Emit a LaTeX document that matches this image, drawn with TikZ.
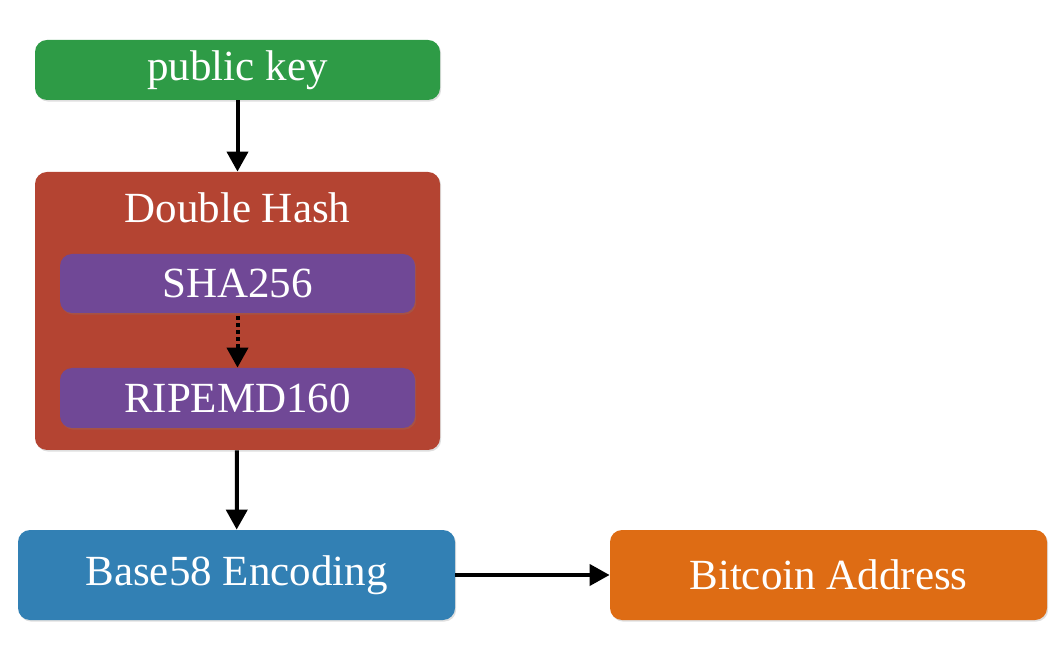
\documentclass[tikz,border=0pt]{standalone}
\usepackage{fontspec}
\setmainfont{Liberation Serif}
\usetikzlibrary{arrows.meta, shadows}

\definecolor{keygreen}{RGB}{46,155,70}
\definecolor{hashred}{RGB}{180,68,50}
\definecolor{stepviolet}{RGB}{112,72,150}
\definecolor{encblue}{RGB}{50,128,180}
\definecolor{addrorange}{RGB}{222,108,20}

\tikzset{
	box/.style={rounded corners=6pt, text=white, inner sep=0pt, font=\fontsize{21.5}{25}\selectfont,
		drop shadow={shadow xshift=0.6pt, shadow yshift=-0.8pt, opacity=0.25}},
	flow/.style={line width=2pt, -{Triangle[length=10pt, width=10.5pt]}},
}

\begin{document}
\begin{tikzpicture}[x=0.5pt, y=-0.5pt]
	\useasboundingbox (0,0) rectangle (1064,651);
	\node[box, fill=keygreen, minimum width=202.5pt, minimum height=30pt] (pubkey) at (237.5,70) {public key};
	\node[box, fill=hashred, minimum width=202.5pt, minimum height=139pt] (dhash) at (237.5,311) {};
	\node[text=white, font=\fontsize{21.5}{25}\selectfont] (dhtitle) at (237.5,208) {Double Hash};
	\node[box, fill=stepviolet, minimum width=177.5pt, minimum height=29.5pt] (sha) at (237.5,283.5) {SHA256};
	\node[box, fill=stepviolet, minimum width=177.5pt, minimum height=30pt] (ripemd) at (237.5,398) {RIPEMD160};
	\node[box, fill=encblue, minimum width=218.5pt, minimum height=45pt] (base) at (236.5,575) {Base58 Encoding};
	\node[box, fill=addrorange, minimum width=218.5pt, minimum height=45pt] (addr) at (828.5,575) {Bitcoin Address};

	\draw[flow] (pubkey) -- (dhash);
	\draw[flow, dash pattern=on 2pt off 1.5pt] (sha.south) ++(0,3) -- (ripemd.north);
	\draw[flow] (dhash) -- (base);
	\draw[flow] (base) -- (addr);
\end{tikzpicture}
\end{document}
